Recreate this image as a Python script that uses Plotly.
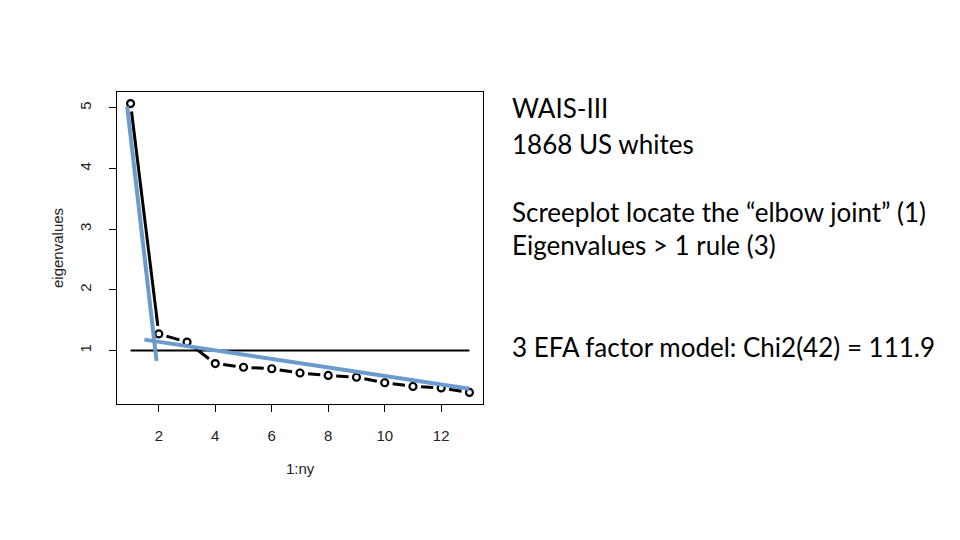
import plotly.graph_objects as go
import math

# ---- data ----
factor_index = list(range(1, 14))
eigenvalues = [5.07, 1.275, 1.14, 0.786, 0.725, 0.70, 0.63, 0.59, 0.56, 0.47, 0.41, 0.385, 0.31]
ref_line_x = [1, 13]
ref_line_y = [1, 1]
# hand-drawn blue "elbow" lines
elbow_a_x = [0.88, 1.92]
elbow_a_y = [5.02, 0.83]
elbow_b_x = [1.49, 13.0]
elbow_b_y = [1.18, 0.37]
x_ticks = [2, 4, 6, 8, 10, 12]
y_ticks = [1, 2, 3, 4, 5]
side_text = [
    ("WAIS-III", 108),
    ("1868 US whites", 144),
    ("Screeplot locate the \u201celbow joint\u201d (1)", 212),
    ("Eigenvalues > 1 rule (3)", 245),
    ("3 EFA factor model: Chi2(42) = 111.9", 347),
]

OFF = 8  # page body margin
W, H = 960, 540
pw, ph = 366, 312
L, T = 117 - OFF, 92 - OFF
R, B = W - L - pw, H - T - ph

xr = [min(factor_index) - 0.04 * (max(factor_index) - min(factor_index)),
      max(factor_index) + 0.04 * (max(factor_index) - min(factor_index))]
ymin, ymax = min(eigenvalues), max(eigenvalues)
yr = [ymin - 0.04 * (ymax - ymin), ymax + 0.04 * (ymax - ymin)]
sx = pw / (xr[1] - xr[0])
sy = ph / (yr[1] - yr[0])

# type="b" segments: gaps around points, computed in pixel space
gap = 8.0
seg_x, seg_y = [], []
for i in range(len(factor_index) - 1):
    x0, y0 = factor_index[i], eigenvalues[i]
    x1, y1 = factor_index[i + 1], eigenvalues[i + 1]
    dxp, dyp = (x1 - x0) * sx, (y1 - y0) * sy
    d = math.hypot(dxp, dyp)
    f = gap / d
    seg_x += [x0 + (x1 - x0) * f, x1 - (x1 - x0) * f, None]
    seg_y += [y0 + (y1 - y0) * f, y1 - (y1 - y0) * f, None]

blue = "#6A9BCC"
fig = go.Figure()
fig.add_trace(go.Scatter(x=ref_line_x, y=ref_line_y, mode="lines",
                         line=dict(color="black", width=2), hoverinfo="skip"))
fig.add_trace(go.Scatter(x=seg_x, y=seg_y, mode="lines",
                         line=dict(color="black", width=3), hoverinfo="skip"))
fig.add_trace(go.Scatter(x=factor_index, y=eigenvalues, mode="markers",
                         marker=dict(symbol="circle-open", size=7, color="black",
                                     line=dict(width=2.2, color="black"))))
fig.add_trace(go.Scatter(x=elbow_a_x, y=elbow_a_y, mode="lines",
                         line=dict(color=blue, width=4), hoverinfo="skip"))
fig.add_trace(go.Scatter(x=elbow_b_x, y=elbow_b_y, mode="lines",
                         line=dict(color=blue, width=4), hoverinfo="skip"))

axis_font = dict(family="Liberation Sans, Arial, sans-serif", size=15, color="#222")
fig.update_layout(
    width=W, height=H, showlegend=False,
    paper_bgcolor="white", plot_bgcolor="white",
    margin=dict(l=L, r=R, t=T, b=B, autoexpand=False),
    xaxis=dict(range=xr, tickvals=x_ticks, ticks="outside", ticklen=7,
               tickcolor="black", showline=True, mirror=True, linecolor="black",
               linewidth=1, showgrid=False, zeroline=False, tickfont=axis_font,
               ticklabelstandoff=11),
    yaxis=dict(range=yr, tickvals=y_ticks, ticks="outside", ticklen=7,
               tickcolor="black", showline=True, mirror=True, linecolor="black",
               linewidth=1, showgrid=False, zeroline=False, tickfont=axis_font,
               tickangle=-90, ticklabelstandoff=12),
)
fig.add_annotation(text="eigenvalues", xref="paper", yref="paper", x=0, y=0.5,
                   xanchor="center", yanchor="middle",
                   xshift=-60, showarrow=False, textangle=-90, font=axis_font)
fig.add_annotation(text="1:ny", xref="paper", yref="paper", x=0.5, y=0,
                   xanchor="center", yanchor="middle",
                   yshift=-64, showarrow=False, font=axis_font)

for txt, ypx in side_text:
    fig.add_annotation(text=txt, xref="paper", yref="paper",
                       x=(510 - OFF - L) / pw, y=(H - B - (ypx - OFF)) / ph,
                       xanchor="left", yanchor="middle", showarrow=False,
                       font=dict(family="Lato, sans-serif", size=26, color="black"))

fig.write_html("out.html")
